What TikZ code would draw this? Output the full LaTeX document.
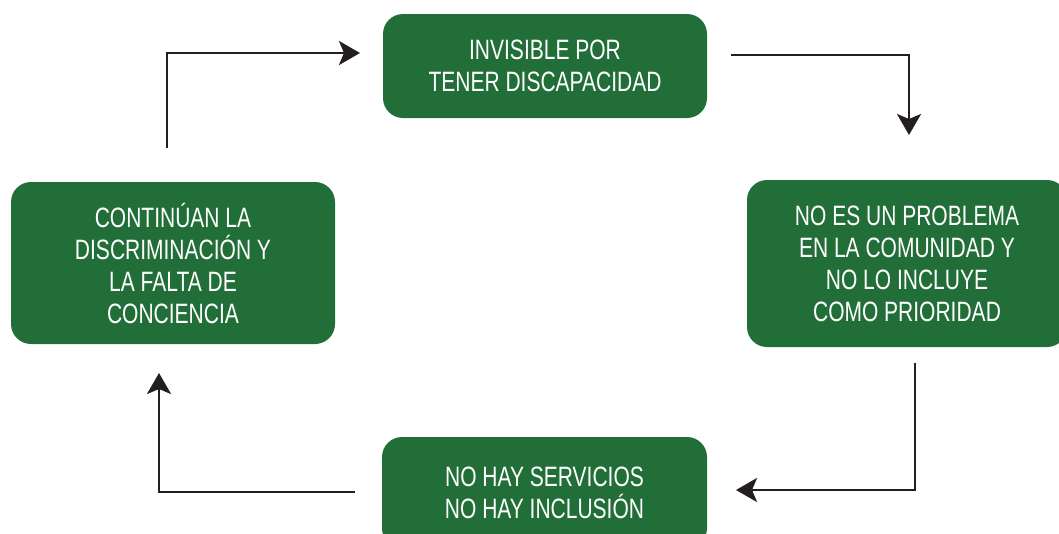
\documentclass[tikz,border=0pt]{standalone}
\usepackage{fontspec}
\setmainfont{Liberation Sans}[FakeStretch=0.75]
\usetikzlibrary{arrows.meta}
\definecolor{boxgreen}{RGB}{33,110,56}
\definecolor{linegray}{RGB}{35,31,32}
\tikzset{
  stepbox/.style={draw=none, fill=boxgreen, rounded corners=20pt, text=white,
    align=center, font=\fontsize{28}{32}\selectfont, inner sep=0pt},
  conn/.style={draw=linegray, line width=2.6pt,
    -{Stealth[length=21pt, width=24pt, inset=5pt]}}
}
\begin{document}
\begin{tikzpicture}[x=1pt, y=-1pt]
\useasboundingbox (0,0) rectangle (1059,533);
\node[stepbox, minimum width=324pt, minimum height=104pt] (top) at (545,66) {INVISIBLE POR\\TENER DISCAPACIDAD};
\node[stepbox, minimum width=320pt, minimum height=167pt] (right) at (907,263.5) {NO ES UN PROBLEMA\\EN LA COMUNIDAD Y\\NO LO INCLUYE\\COMO PRIORIDAD};
\node[stepbox, minimum width=324pt, minimum height=162pt] (left) at (173,263) {CONTIN\'UAN LA\\DISCRIMINACI\'ON Y\\LA FALTA DE\\CONCIENCIA};
\node[stepbox, minimum width=325pt, minimum height=111pt] (bottom) at (544.5,492.5) {NO HAY SERVICIOS\\NO HAY INCLUSI\'ON};
% connector end points
\coordinate (a1s) at (167,148);
\coordinate (a1e) at (360,53);
\coordinate (a2s) at (731,55);
\coordinate (a2e) at (909,135);
\coordinate (a3s) at (915,363);
\coordinate (a3e) at (736,490);
\coordinate (a4s) at (355,492);
\coordinate (a4e) at (159,373);
\draw[conn] (a1s) |- (a1e);
\draw[conn] (a2s) -| (a2e);
\draw[conn] (a3s) |- (a3e);
\draw[conn] (a4s) -| (a4e);
\end{tikzpicture}
\end{document}
